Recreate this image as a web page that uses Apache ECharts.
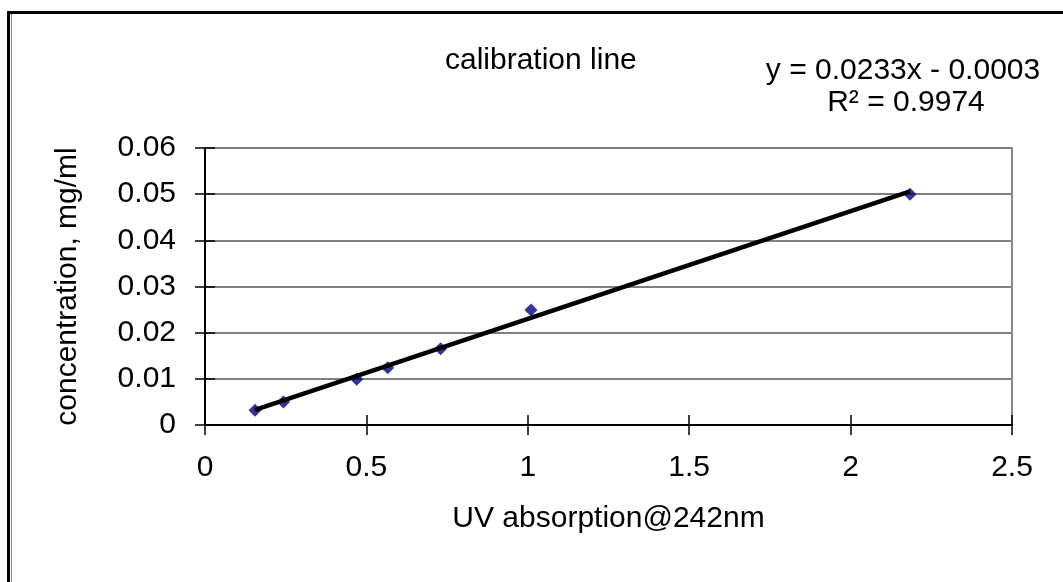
<!DOCTYPE html>
<html>
<head>
<meta charset="utf-8">
<script src="https://cdn.jsdelivr.net/npm/echarts@6/dist/echarts.min.js"></script>
<style>
html,body{margin:0;padding:0;background:#fff;}
#chart{width:1063px;height:582px;}
</style>
</head>
<body>
<div id="chart"></div>
<script>
// Data
var absorption = [0.155, 0.243, 0.47, 0.566, 0.73, 1.01, 2.184];
var concentration = [0.0032, 0.005, 0.0099, 0.0124, 0.0165, 0.0249, 0.05];
var trendX = [0.155, 2.184];
var trendY = [0.0033, 0.0506];
var xTicks = [0, 0.5, 1, 1.5, 2, 2.5];
var yTicks = [0, 0.01, 0.02, 0.03, 0.04, 0.05, 0.06];
var titleText = 'calibration line';
var equationLines = ['y = 0.0233x - 0.0003', 'R\u00b2 = 0.9974'];
var xName = 'UV absorption@242nm';
var yName = 'concentration, mg/ml';

var FONT = 'Liberation Sans, Arial, sans-serif';
var FS = 30;

var points = absorption.map(function (x, i) { return [x, concentration[i]]; });
var trend = trendX.map(function (x, i) { return [x, trendY[i]]; });

var chart = echarts.init(document.getElementById('chart'));
var xCommon = {type: 'value', min: xTicks[0], max: xTicks[xTicks.length - 1], interval: 0.5, gridIndex: 0};
var yCommon = {type: 'value', min: yTicks[0], max: yTicks[yTicks.length - 1], interval: 0.01, gridIndex: 0};

chart.setOption({
  animation: false,
  backgroundColor: '#fff',
  title: {
    text: titleText,
    left: 440, top: 41,
    textStyle: {fontFamily: FONT, fontSize: FS, fontWeight: 'normal', color: '#000'}
  },
  grid: {left: 205, top: 148, right: 51, bottom: 157, containLabel: false},
  xAxis: [
    Object.assign({}, xCommon, {
      position: 'bottom',
      name: xName, nameLocation: 'middle', nameGap: 79,
      nameTextStyle: {fontFamily: FONT, fontSize: FS, color: '#000'},
      axisLine: {show: true, onZero: false, lineStyle: {color: '#000', width: 2}},
      axisTick: {show: true, inside: false, length: 10, lineStyle: {color: '#000', width: 1.5}},
      axisLabel: {fontFamily: FONT, fontSize: FS, color: '#000', margin: 28,
        formatter: function (v) { return String(v); }},
      splitLine: {show: false}
    }),
    Object.assign({}, xCommon, {
      position: 'bottom',
      axisLine: {show: false},
      axisTick: {show: true, inside: true, length: 10, lineStyle: {color: '#000', width: 1.5}},
      axisLabel: {show: false},
      splitLine: {show: false}
    })
  ],
  yAxis: [
    Object.assign({}, yCommon, {
      position: 'left',
      name: yName, nameLocation: 'middle', nameGap: 122,
      nameTextStyle: {fontFamily: FONT, fontSize: FS, color: '#000'},
      axisLine: {show: true, onZero: false, lineStyle: {color: '#000', width: 2}},
      axisTick: {show: true, inside: false, length: 10, lineStyle: {color: '#000', width: 1.5}},
      axisLabel: {fontFamily: FONT, fontSize: FS, color: '#000', margin: 29,
        formatter: function (v) { return String(v); }},
      splitLine: {show: true, lineStyle: {color: '#555', width: 1.5}}
    }),
    Object.assign({}, yCommon, {
      position: 'left', offset: 0,
      axisLine: {show: false},
      axisTick: {show: true, inside: true, length: 10, lineStyle: {color: '#000', width: 1.5}},
      axisLabel: {show: false},
      splitLine: {show: false}
    }),
    Object.assign({}, yCommon, {
      position: 'right', offset: 0,
      axisLine: {show: true, onZero: false, lineStyle: {color: '#888', width: 2}},
      axisTick: {show: false},
      axisLabel: {show: false},
      splitLine: {show: false}
    })
  ],
  graphic: [
    {type: 'line', shape: {x1: 7, y1: 12.5, x2: 1070, y2: 12.5}, style: {stroke: '#000', lineWidth: 3}, z: 100},
    {type: 'line', shape: {x1: 8.5, y1: 11, x2: 8.5, y2: 600}, style: {stroke: '#000', lineWidth: 3}, z: 100},
    {type: 'line', shape: {x1: 11.5, y1: 14, x2: 11.5, y2: 600}, style: {stroke: '#888', lineWidth: 1}, z: 100},
    {type: 'text', x: 903, y: 56, z: 100,
      style: {text: equationLines[0], font: FS + 'px ' + FONT, fill: '#000', textAlign: 'center', textVerticalAlign: 'top'}},
    {type: 'text', x: 906, y: 88, z: 100,
      style: {text: equationLines[1], font: FS + 'px ' + FONT, fill: '#000', textAlign: 'center', textVerticalAlign: 'top'}}
  ],
  series: [
    {
      type: 'scatter', xAxisIndex: 0, yAxisIndex: 0,
      data: points, symbol: 'diamond', symbolSize: 13,
      itemStyle: {color: '#000080'}, z: 2
    },
    {
      type: 'line', xAxisIndex: 0, yAxisIndex: 0,
      data: trend, showSymbol: false, symbol: 'none',
      lineStyle: {color: '#000', width: 4.5}, z: 3
    }
  ]
});
</script>
</body>
</html>
